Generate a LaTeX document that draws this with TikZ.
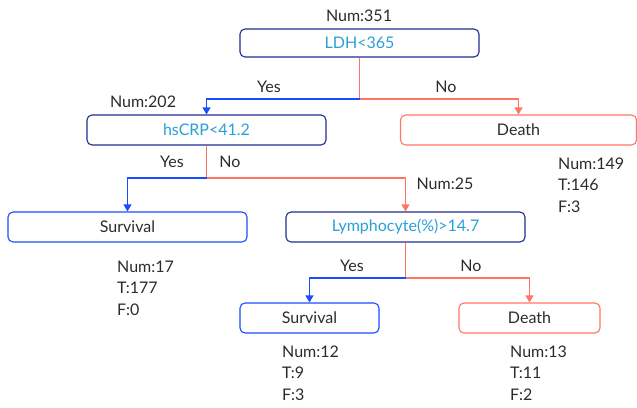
\documentclass[tikz,border=0pt]{standalone}
\usepackage{fontspec}
\setmainfont{Lato}
\usetikzlibrary{arrows.meta}
\definecolor{navy}{HTML}{1F2D8F}
\definecolor{bblue}{HTML}{1A4CFF}
\definecolor{salmon}{HTML}{FF7563}
\definecolor{cyantext}{HTML}{2A9FD6}
\definecolor{txt}{HTML}{2B2B2B}
\begin{document}
\begin{tikzpicture}[x=1pt,y=-1pt,
  font=\fontsize{16}{19}\selectfont,
  base/.style={rounded corners=5pt,line width=1.1pt,inner sep=0pt},
  decbox/.style={base,draw=navy,text=cyantext},
  survbox/.style={base,draw=bblue,text=txt},
  deathbox/.style={base,draw=salmon,text=txt},
  yesl/.style={draw=bblue,line width=1.2pt},
  nol/.style={draw=salmon,line width=1.2pt},
  tip/.style={-{Triangle[length=7pt,width=8pt]}},
  lab/.style={text=txt,inner sep=0pt},
  info/.style={text=txt,inner sep=0pt,anchor=west,align=left,font=\fontsize{16}{21.5}\selectfont}]
\useasboundingbox (0,0) rectangle (637,407);
% boxes
\node[decbox,minimum width=239pt,minimum height=28pt] (root) at (359.5,43) {LDH<365};
\node[decbox,minimum width=239pt,minimum height=30pt] (hs) at (206.5,130) {hsCRP<41.2};
\node[deathbox,minimum width=236pt,minimum height=30pt] (d1) at (518.5,130) {Death};
\node[survbox,minimum width=239pt,minimum height=30pt] (s1) at (127.5,227) {Survival};
\node[decbox,minimum width=239pt,minimum height=30pt] (ly) at (405.5,227) {Lymphocyte(\%)>14.7};
\node[survbox,minimum width=139pt,minimum height=30pt] (s2) at (309.5,318) {Survival};
\node[deathbox,minimum width=141pt,minimum height=30pt] (d2) at (529.5,318) {Death};
% junction coordinates
\coordinate (j1) at (359.5,99);
\coordinate (j2) at (206.5,178);
\coordinate (j3) at (405.5,278);
% connectors
\draw[nol] (root.south) -- (j1);
\draw[yesl,tip] (j1) -| (hs.north);
\draw[nol,tip] (j1) -| (d1.north);
\draw[nol] (hs.south) -- (j2);
\draw[yesl,tip] (j2) -| (s1.north);
\draw[nol,tip] (j2) -| (ly.north);
\draw[nol] (ly.south) -- (j3);
\draw[yesl,tip] (j3) -| (s2.north);
\draw[nol,tip] (j3) -| (d2.north);
% labels
\node[lab] (n351) at (359,16) {Num:351};
\node[lab] (y1) at (269,87) {Yes};
\node[lab] (no1) at (446,87) {No};
\node[lab] (n202) at (143,102) {Num:202};
\node[lab] (y2) at (172,162) {Yes};
\node[lab] (no2) at (230,162) {No};
\node[lab] (n25) at (445,184) {Num:25};
\node[lab] (y3) at (352,266) {Yes};
\node[lab] (no3) at (471,266) {No};
\node[info] (i1) at (558,185) {Num:149\\T:146\\F:3};
\node[info] (i2) at (117,288) {Num:17\\T:177\\F:0};
\node[info] (i3) at (282,373) {Num:12\\T:9\\F:3};
\node[info] (i4) at (510,373) {Num:13\\T:11\\F:2};
\end{tikzpicture}
\end{document}
